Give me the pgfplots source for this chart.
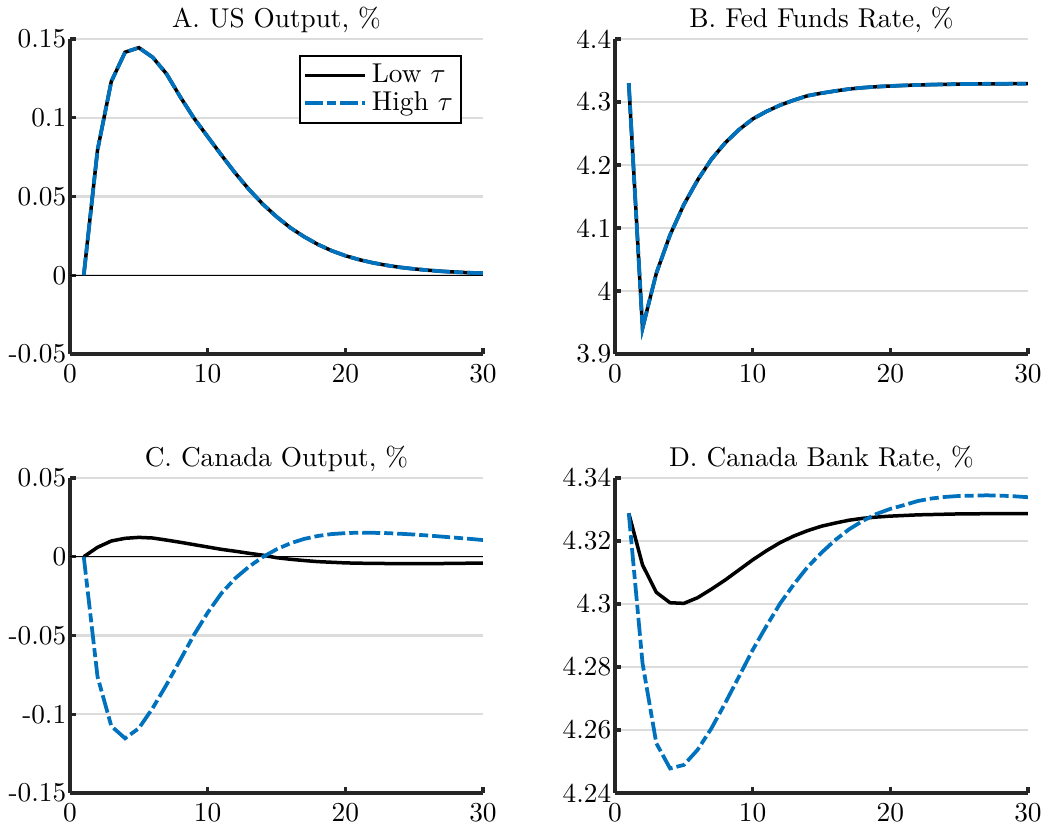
\documentclass[border=0pt]{standalone}
\usepackage{pgfplots}
\pgfplotsset{compat=1.18}
\usepackage{pgfplotstable}
\definecolor{mblue}{RGB}{0,114,189}
\definecolor{axisgray}{RGB}{38,38,38}
\definecolor{gridgray}{RGB}{220,220,220}

\pgfplotstableread{
x lowA highA lowB highB lowC highC lowD highD
1 0 0 4.330 4.330 0 0 4.3288 4.3288
2 0.0795 0.0795 3.941 3.941 0.0060 -0.0762 4.3124 4.2812
3 0.1230 0.1230 4.028 4.028 0.0100 -0.1075 4.3037 4.2558
4 0.1416 0.1416 4.089 4.089 0.0117 -0.1153 4.3004 4.2478
5 0.1445 0.1445 4.137 4.137 0.0123 -0.1089 4.3002 4.2489
6 0.1384 0.1384 4.176 4.176 0.0119 -0.0962 4.3020 4.2537
7 0.1280 0.1280 4.209 4.209 0.0106 -0.0814 4.3047 4.2605
8 0.1134 0.1134 4.235 4.235 0.0092 -0.0656 4.3076 4.2685
9 0.0998 0.0998 4.256 4.256 0.0077 -0.0497 4.3108 4.2769
10 0.0880 0.0880 4.273 4.273 0.0062 -0.0355 4.3140 4.2854
11 0.0763 0.0763 4.285 4.285 0.0047 -0.0232 4.3169 4.2930
12 0.0649 0.0649 4.295 4.295 0.0035 -0.0137 4.3195 4.3002
13 0.0545 0.0545 4.303 4.303 0.0022 -0.0063 4.3216 4.3063
14 0.0452 0.0452 4.310 4.310 0.0010 -0.0002 4.3233 4.3118
15 0.0372 0.0372 4.314 4.314 -0.0006 0.0047 4.3247 4.3163
16 0.0302 0.0302 4.3175 4.3175 -0.0016 0.0085 4.3257 4.3203
17 0.0245 0.0245 4.3206 4.3206 -0.0024 0.0113 4.3266 4.3237
18 0.0196 0.0196 4.3227 4.3227 -0.0031 0.0132 4.3272 4.3264
19 0.0156 0.0156 4.3243 4.3243 -0.0035 0.0144 4.3276 4.3286
20 0.0124 0.0124 4.3254 4.3254 -0.0039 0.0150 4.3279 4.3302
21 0.0099 0.0099 4.3263 4.3263 -0.0041 0.0153 4.3281 4.3314
22 0.0079 0.0079 4.3270 4.3270 -0.0042 0.0152 4.3283 4.3327
23 0.0063 0.0063 4.3276 4.3276 -0.0043 0.0150 4.3284 4.3335
24 0.0050 0.0050 4.3280 4.3280 -0.0044 0.0146 4.3285 4.3340
25 0.0040 0.0040 4.3284 4.3284 -0.0044 0.0141 4.3286 4.3343
26 0.0032 0.0032 4.3286 4.3286 -0.0044 0.0135 4.3286 4.3344
27 0.0025 0.0025 4.3288 4.3288 -0.0043 0.0128 4.3287 4.3345
28 0.0020 0.0020 4.3289 4.3289 -0.0042 0.0121 4.3287 4.3344
29 0.0016 0.0016 4.3290 4.3290 -0.0041 0.0114 4.3287 4.3342
30 0.0013 0.0013 4.3290 4.3290 -0.0040 0.0106 4.3287 4.3339
}\datatab

\pgfplotsset{
  myax/.style={
    scale only axis, width=165.2pt, height=126pt,
    xmin=0, xmax=30, xtick={0,10,20,30},
    axis x line*=bottom, axis y line*=left,
    axis line style={-, line width=1.3pt, color=axisgray},
    tick align=inside, major tick length=2.4pt,
    every tick/.style={line width=1.3pt, color=axisgray},
    ymajorgrids, major grid style={line width=0.9pt, color=gridgray},
    tick label style={font=\fontsize{10.9}{12}\selectfont, color=black},
    title style={font=\fontsize{10.9}{12}\selectfont, yshift=-7pt},
    xticklabel style={yshift=-1pt},
    yticklabel style={xshift=2pt},
  },
  lowline/.style={black, line width=1.4pt},
  highline/.style={mblue, line width=1.5pt, dash pattern=on 7.2pt off 1.6pt on 3.6pt off 1.6pt},
}

\begin{document}
\begin{tikzpicture}
\useasboundingbox (0,0) rectangle (418.4pt,332.4pt);
% A
\begin{axis}[myax, at={(28pt,190.8pt)}, anchor=south west,
  title={A. US Output, \%},
  ymin=-0.05, ymax=0.15, ytick={-0.05,0,0.05,0.1,0.15},
  yticklabels={-0.05,0,0.05,0.1,0.15},
  legend style={at={(1,1)}, anchor=north east, xshift=-8.4pt, yshift=-6.4pt,
    draw=black, line width=0.9pt, font=\fontsize{10.9}{12}\selectfont,
    inner sep=1.2pt, row sep=-1.8pt},
  legend cell align=left,
  legend image code/.code={\draw[#1] (0pt,0pt) -- (24pt,0pt);}]
\addplot[black, line width=0.5pt, forget plot] coordinates {(0,0) (30,0)};
\addplot[lowline] table[x=x, y=lowA] {\datatab};
\addplot[highline] table[x=x, y=highA] {\datatab};
\legend{Low $\tau$, High $\tau$}
\end{axis}
% B
\begin{axis}[myax, at={(246pt,190.8pt)}, anchor=south west,
  title={B. Fed Funds Rate, \%},
  ymin=3.9, ymax=4.4, ytick={3.9,4,4.1,4.2,4.3,4.4},
  yticklabels={3.9,4,4.1,4.2,4.3,4.4}]
\addplot[lowline] table[x=x, y=lowB] {\datatab};
\addplot[highline] table[x=x, y=highB] {\datatab};
\end{axis}
% C
\begin{axis}[myax, at={(28pt,15.2pt)}, anchor=south west,
  title={C. Canada Output, \%},
  ymin=-0.15, ymax=0.05, ytick={-0.15,-0.1,-0.05,0,0.05},
  yticklabels={-0.15,-0.1,-0.05,0,0.05}]
\addplot[black, line width=0.5pt, forget plot] coordinates {(0,0) (30,0)};
\addplot[lowline] table[x=x, y=lowC] {\datatab};
\addplot[highline] table[x=x, y=highC] {\datatab};
\end{axis}
% D
\begin{axis}[myax, at={(246pt,15.2pt)}, anchor=south west,
  title={D. Canada Bank Rate, \%},
  ymin=4.24, ymax=4.34, ytick={4.24,4.26,4.28,4.3,4.32,4.34},
  yticklabels={4.24,4.26,4.28,4.3,4.32,4.34}]
\addplot[lowline] table[x=x, y=lowD] {\datatab};
\addplot[highline] table[x=x, y=highD] {\datatab};
\end{axis}
\end{tikzpicture}
\end{document}
